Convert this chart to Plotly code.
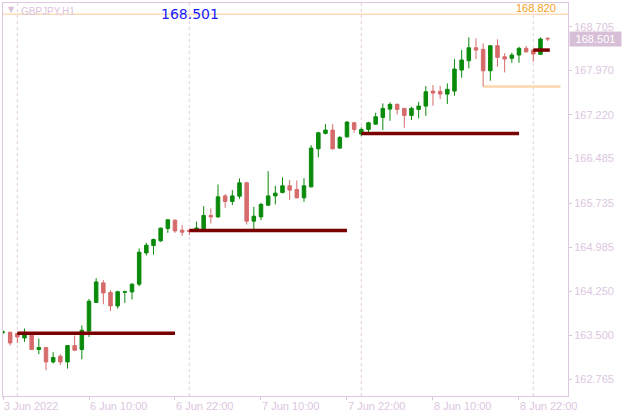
import plotly.graph_objects as go

# GBPJPY H1 bars, 3 Jun 22:00 -> 9 Jun 02:00
bar_time = (["3 Jun 22:00", "3 Jun 23:00"]
            + ["6 Jun %02d:00" % h for h in range(24)]
            + ["7 Jun %02d:00" % h for h in range(24)]
            + ["8 Jun %02d:00" % h for h in range(24)]
            + ["9 Jun %02d:00" % h for h in range(3)])

opens = [163.552, 163.557, 163.535, 163.461, 163.535, 163.266, 163.299, 163.057, 163.153, 163.057,
         163.333, 163.266, 163.578, 164.060, 164.389, 164.227, 164.001, 164.232, 164.237, 164.367,
         164.894, 165.019, 165.097, 165.306, 165.446, 165.277, 165.277, 165.277, 165.299, 165.525,
         165.501, 165.855, 165.761, 165.850, 166.075, 165.429, 165.501, 165.699, 165.855, 165.913,
         166.024, 165.963, 165.822, 166.007, 166.648, 166.908, 166.963, 166.660, 166.850, 167.086,
         166.896, 166.975, 167.064, 167.177, 167.317, 167.397, 167.329, 167.211, 167.312, 167.368,
         167.621, 167.616, 167.570, 167.621, 167.975, 168.132, 168.351, 168.324, 167.963, 168.385,
         168.199, 168.172, 168.228, 168.341, 168.312, 168.240, 168.509]
highs = [163.591, 163.565, 163.545, 163.620, 163.557, 163.451, 163.305, 163.220, 163.186, 163.340,
         163.502, 163.675, 164.119, 164.468, 164.434, 164.266, 164.257, 164.257, 164.384, 164.969,
         165.063, 165.137, 165.323, 165.468, 165.458, 165.362, 165.285, 165.421, 165.682, 165.643,
         166.048, 165.884, 165.952, 166.149, 166.092, 165.670, 165.738, 166.272, 166.024, 166.166,
         166.120, 166.115, 166.154, 166.710, 166.935, 167.064, 167.064, 166.862, 167.115, 167.103,
         167.009, 167.103, 167.255, 167.413, 167.430, 167.413, 167.339, 167.356, 167.440, 167.705,
         167.722, 167.710, 167.751, 168.160, 168.312, 168.526, 168.509, 168.425, 168.396, 168.493,
         168.257, 168.267, 168.368, 168.380, 168.324, 168.526, 168.526]
lows = [163.524, 163.333, 163.377, 163.394, 163.260, 163.186, 162.917, 163.030, 163.006, 162.945,
        163.242, 163.102, 163.478, 164.052, 164.029, 163.916, 163.957, 164.052, 164.109, 164.333,
        164.851, 164.867, 165.080, 165.232, 165.232, 165.181, 165.193, 165.248, 165.289, 165.390,
        165.485, 165.653, 165.699, 165.805, 165.373, 165.289, 165.446, 165.682, 165.711, 165.896,
        165.783, 165.812, 165.754, 165.997, 166.503, 166.891, 166.638, 166.648, 166.833, 166.918,
        166.862, 166.930, 167.048, 166.963, 167.120, 167.228, 167.002, 167.132, 167.161, 167.204,
        167.373, 167.486, 167.402, 167.542, 167.845, 168.004, 168.160, 167.700, 167.795, 168.031,
        167.936, 168.098, 168.098, 168.267, 168.115, 168.228, 168.464]
closes = [163.560, 163.377, 163.478, 163.535, 163.266, 163.299, 163.057, 163.131, 163.057, 163.333,
          163.254, 163.591, 164.080, 164.405, 164.220, 164.001, 164.240, 164.240, 164.367, 164.906,
          165.024, 165.120, 165.311, 165.451, 165.265, 165.243, 165.255, 165.314, 165.525, 165.501,
          165.839, 165.761, 165.855, 166.075, 165.429, 165.513, 165.711, 165.855, 165.901, 166.024,
          165.952, 165.822, 166.024, 166.660, 166.918, 166.963, 166.648, 166.840, 167.098, 166.975,
          166.975, 167.086, 167.188, 167.329, 167.397, 167.312, 167.211, 167.329, 167.368, 167.609,
          167.587, 167.570, 167.650, 167.992, 168.144, 168.351, 168.312, 167.963, 168.385, 168.189,
          168.160, 168.228, 168.341, 168.284, 168.245, 168.498, 168.501]

# daily open levels (bar index where the day starts / where the line ends)
day_start = [2, 26, 50, 74]
day_end = [24, 48, 72, 76.3]
day_open = [163.540, 165.272, 166.908, 168.312]

# other levels
high_level = 168.914
high_label = "168.820"
low_level = 167.700
low_level_from = 67
last_price = "168.501"

# x-axis labels
tick_idx = [0, 12, 24, 36, 48, 60, 72]
tick_text = ["3 Jun 2022", "6 Jun 10:00", "6 Jun 22:00", "7 Jun 10:00",
             "7 Jun 22:00", "8 Jun 10:00", "8 Jun 22:00"]
price_ticks = [162.765, 163.500, 164.250, 164.985, 165.735, 166.485, 167.220, 167.970, 168.705]

UP = "#0a8a0a"
DN = "#d66b6b"
FRAME = "#dcc6e0"
FONT = "Liberation Sans"

x = list(range(len(bar_time)))

fig = go.Figure()

# vertical day separators
for d in day_start:
    fig.add_vline(x=d, line=dict(color="#e2cce2", width=1, dash="3px,3px"), layer="below")

# top orange level
fig.add_hline(y=high_level, line=dict(color="#ffdcb8", width=1.5), layer="below")

# low level line
fig.add_shape(type="line", x0=low_level_from, x1=77.8, y0=low_level, y1=low_level,
              line=dict(color="#ffd6ad", width=2.5), layer="below")

fig.add_trace(go.Candlestick(
    x=x, open=opens, high=highs, low=lows, close=closes,
    increasing=dict(line=dict(color=UP, width=1), fillcolor=UP),
    decreasing=dict(line=dict(color=DN, width=1), fillcolor=DN),
    whiskerwidth=0, showlegend=False, hoverinfo="skip"))

# daily open lines
for s, e, p in zip(day_start, day_end, day_open):
    fig.add_trace(go.Scatter(x=[s, e], y=[p, p], mode="lines",
                             line=dict(color="#7a0000", width=3.5),
                             showlegend=False, hoverinfo="skip"))

fig.update_layout(
    width=625, height=417,
    margin=dict(l=3, r=57, t=3, b=21),
    plot_bgcolor="white", paper_bgcolor="white",
    font=dict(family=FONT, size=11, color=FRAME),
    showlegend=False,
)
fig.update_xaxes(
    range=[0, 78.84], rangeslider_visible=False,
    tickvals=tick_idx, ticktext=tick_text,
    ticks="outside", ticklen=3, tickcolor=FRAME,
    ticklabelposition="outside right",
    showgrid=False, zeroline=False,
    showline=True, linecolor=FRAME, linewidth=1, mirror=True,
    tickfont=dict(family=FONT, size=11, color=FRAME),
)
fig.update_yaxes(
    range=[162.483, 169.105], side="right",
    tickvals=price_ticks, ticktext=["%.3f" % v for v in price_ticks],
    ticks="outside", ticklen=3, tickcolor=FRAME,
    showgrid=False, zeroline=False,
    showline=True, linecolor=FRAME, linewidth=1, mirror=True,
    tickfont=dict(family=FONT, size=11, color=FRAME),
)

# symbol title
fig.add_annotation(xref="paper", yref="paper", x=0.006, y=0.984, text="▼",
                   showarrow=False, xanchor="left", yanchor="middle",
                   font=dict(family="DejaVu Sans", size=8, color="#d9c0d9"))
fig.add_annotation(xref="paper", yref="paper", x=0.028, y=0.979, text="GBPJPY,H1",
                   showarrow=False, xanchor="left", yanchor="middle",
                   font=dict(family=FONT, size=10, color="#dcc4dc"))
# blue price text
fig.add_annotation(xref="paper", yref="paper", x=0.331, y=0.973, text=last_price,
                   showarrow=False, xanchor="center", yanchor="middle",
                   font=dict(family="DejaVu Sans", size=14, color="#1a1aff"))
# orange label of top level
fig.add_annotation(xref="paper", y=high_level, x=0.979, text=high_label,
                   showarrow=False, xanchor="right", yanchor="bottom", yshift=-2, xshift=2,
                   font=dict(family=FONT, size=11, color="#f5a020"))
# last price box on the axis
fig.add_annotation(xref="paper", y=float(last_price), x=1, text=last_price,
                   showarrow=False, xanchor="left", yanchor="middle", xshift=1,
                   bgcolor="#d8bfd8", width=49, height=12, align="center",
                   font=dict(family=FONT, size=11, color="white"))

# page without body margin so the figure sits at the window corner
fig.write_html("out.html", config={"displayModeBar": False},
               post_script="document.body.style.margin='0px';")
